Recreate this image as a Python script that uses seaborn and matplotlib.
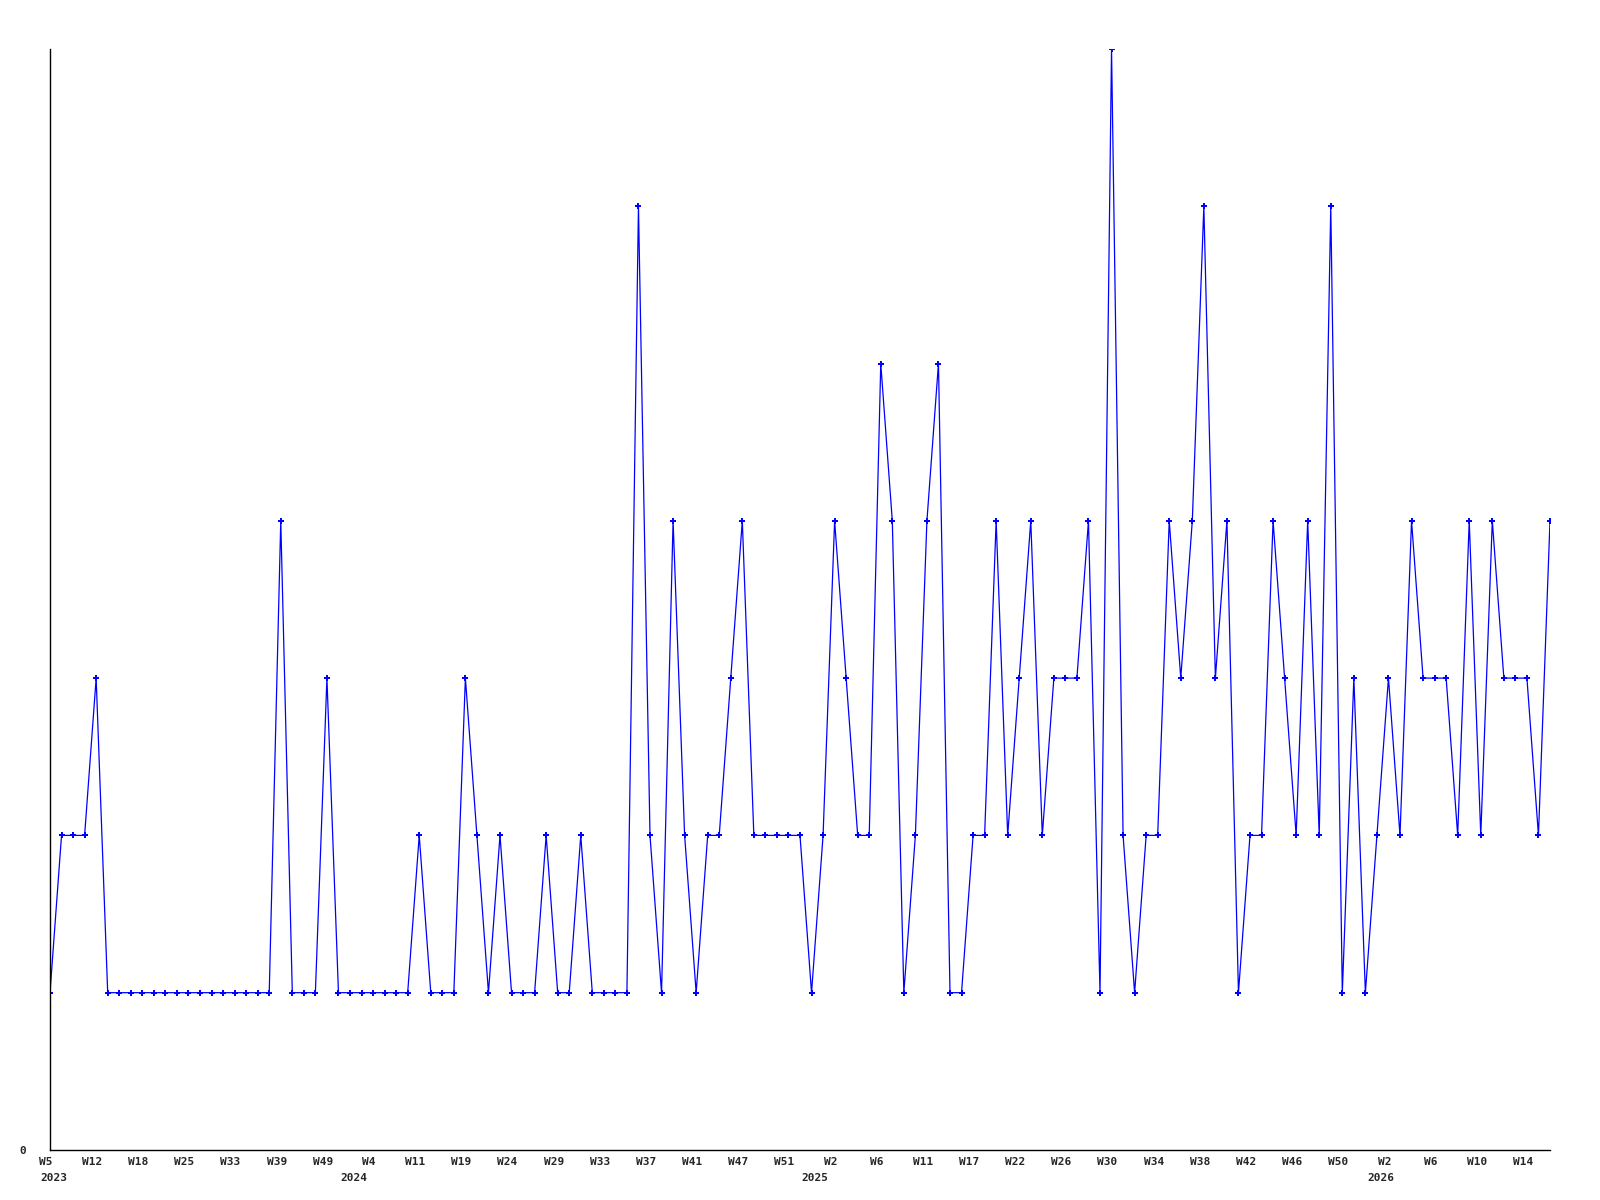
import numpy as np
import pandas as pd
import matplotlib

matplotlib.use("Agg")
import matplotlib.pyplot as plt
import matplotlib.transforms as mtransforms
import seaborn as sns

# Weekly counts, one value per reported week (2023 W5 .. 2026 W16)
counts = [
    1, 2, 2, 2, 3, 1, 1, 1, 1, 1, 1, 1, 1, 1, 1, 1, 1, 1, 1, 1,
    4, 1, 1, 1, 3, 1, 1, 1, 1, 1, 1, 1, 2, 1, 1, 1, 3, 2, 1, 2,
    1, 1, 1, 2, 1, 1, 2, 1, 1, 1, 1, 6, 2, 1, 4, 2, 1, 2, 2, 3,
    4, 2, 2, 2, 2, 2, 1, 2, 4, 3, 2, 2, 5, 4, 1, 2, 4, 5, 1, 1,
    2, 2, 4, 2, 3, 4, 2, 3, 3, 3, 4, 1, 7, 2, 1, 2, 2, 4, 3, 4,
    6, 3, 4, 1, 2, 2, 4, 3, 2, 4, 2, 6, 1, 3, 1, 2, 3, 2, 4, 3,
    3, 3, 2, 4, 2, 4, 3, 3, 3, 2, 4,
]

# x tick labels, shown on every 4th point
tick_weeks = [
    "W5", "W12", "W18", "W25", "W33", "W39", "W49", "W4", "W11", "W19",
    "W24", "W29", "W33", "W37", "W41", "W47", "W51", "W2", "W6", "W11",
    "W17", "W22", "W26", "W30", "W34", "W38", "W42", "W46", "W50", "W2",
    "W6", "W10", "W14",
]
years = ["2023", "2024", "2025", "2026"]
year_pos = [0.3, 26.3, 66.3, 115.3]

df = pd.DataFrame({"idx": np.arange(len(counts)), "count": counts})

sns.set_style("white")
plt.rcParams["font.family"] = ["DejaVu Sans Mono", "DejaVu Sans"]

fig = plt.figure(figsize=(16, 12), dpi=100)
fig.patch.set_facecolor("white")
ax = fig.add_axes([0.03125, 0.0417, 0.9375, 0.9175])

sns.lineplot(
    data=df,
    x="idx",
    y="count",
    ax=ax,
    color="#0000FF",
    linewidth=0.9,
    marker="P",
    markersize=4,
    markeredgewidth=0,
    markerfacecolor="#0000FF",
)

ax.set_xlim(0, len(counts) - 1)
ax.set_ylim(0, 7)

# week labels on every 4th point, nudged a few pixels left
tick_pos = np.arange(0, len(counts), 4)[: len(tick_weeks)]
ax.set_xticks(tick_pos)
ax.set_xticklabels(tick_weeks, fontsize=8, fontweight="bold")
ax.tick_params(axis="x", length=0, pad=5)
nudge = mtransforms.ScaledTranslation(-4 / 100, 0, fig.dpi_scale_trans)
for lbl in ax.get_xticklabels():
    lbl.set_transform(lbl.get_transform() + nudge)

ax.set_yticks([0])
ax.set_yticklabels(["0"], fontsize=8, fontweight="bold")
ax.tick_params(axis="y", length=0, pad=17)
ax.set_xlim(0, len(counts) - 1)

# year labels on a second row
trans = ax.get_xaxis_transform()
for yr, xp in zip(years, year_pos):
    ax.text(xp, -0.021, yr, transform=trans, ha="center", va="top",
            fontsize=8, fontweight="bold")

ax.set_xlabel("")
ax.set_ylabel("")
ax.grid(False)
for side in ["top", "right"]:
    ax.spines[side].set_visible(False)
for side in ["left", "bottom"]:
    ax.spines[side].set_color("black")
    ax.spines[side].set_linewidth(1)

plt.savefig("out.png", dpi=100, facecolor="white")
